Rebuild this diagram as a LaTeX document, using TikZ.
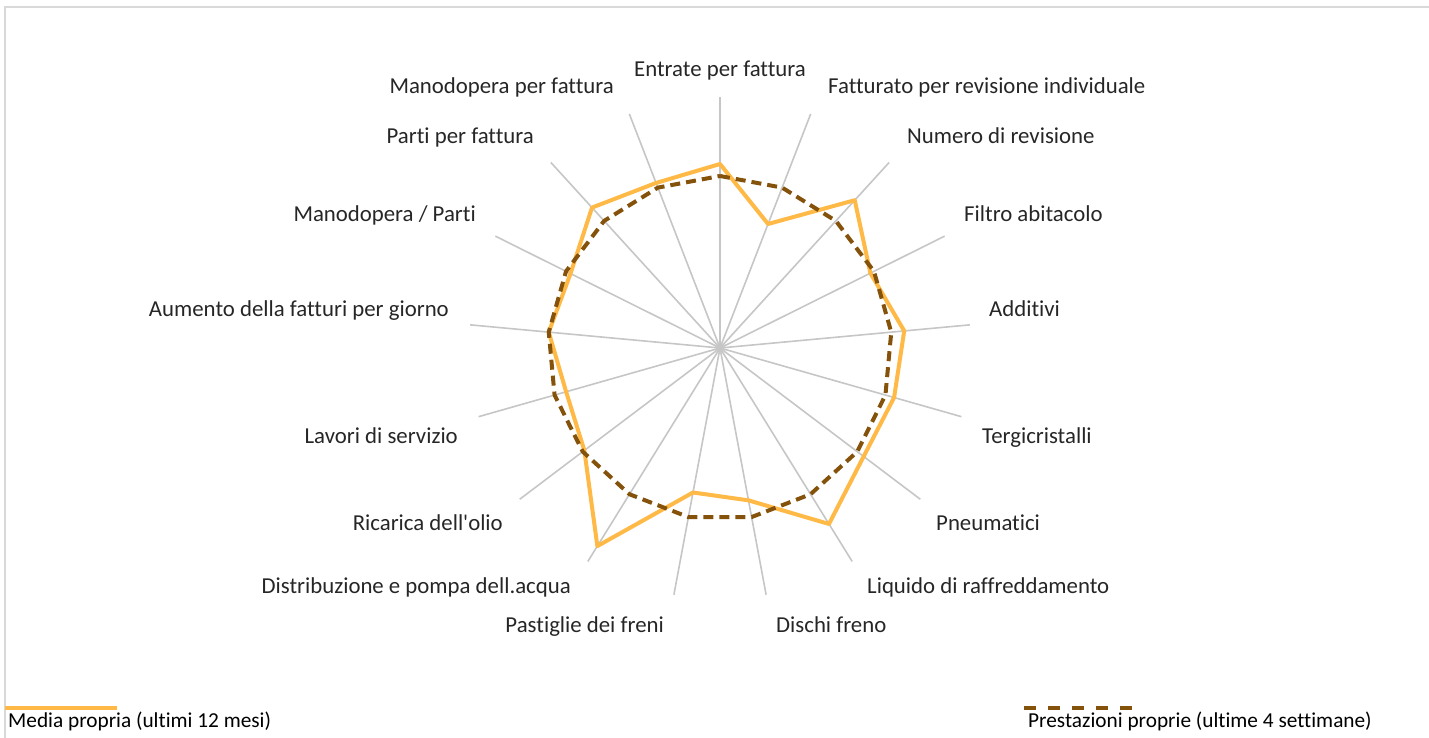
\documentclass[tikz,border=0pt]{standalone}
\usepackage{fontspec}
\setmainfont{Carlito}[Ligatures=NoCommon]
\definecolor{mediaorange}{RGB}{255,185,70}
\definecolor{prestbrown}{RGB}{132,82,10}
\definecolor{spokegray}{RGB}{198,198,198}
\definecolor{framegray}{RGB}{217,217,217}
\definecolor{labelgray}{RGB}{38,38,38}
\begin{document}
\begin{tikzpicture}[x=1pt,y=-1pt,
  spoke/.style={draw=spokegray,line width=1.6pt},
  media/.style={draw=mediaorange,line width=4pt,line join=round},
  prest/.style={draw=prestbrown,line width=4pt,line join=round,dash pattern=on 10pt off 6pt},
  lbl/.style={inner sep=0pt,text=labelgray,font=\fontsize{22.8}{27}\selectfont},
  legend/.style={inner sep=0pt,text=black,font=\fontsize{21.3}{25}\selectfont}]
  \useasboundingbox (0,0) rectangle (1429,738);
  \draw[framegray,line width=2pt] (5,738) |- (1429,7);

  \coordinate (c) at (720,348);
  \def\R{251}
  \def\P{172}
  \foreach \m [count=\i] in {184,133,200,168,185,181,180,207,155,147,233,170,160,172,167,190,177} {
    \pgfmathsetmacro\a{(\i-1)*360/17-90}
    \coordinate (s\i) at ([shift={(\a:\R)}]c);
    \coordinate (m\i) at ([shift={(\a:\m)}]c);
    \coordinate (p\i) at ([shift={(\a:\P)}]c);
  }

  \foreach \i in {1,...,17} \draw[spoke] (c) -- (s\i);
  \draw[media] (m1) \foreach \i in {2,...,17} {-- (m\i)} -- cycle;
  \draw[prest] (p1) \foreach \i in {2,...,17} {-- (p\i)} -- cycle;

  \foreach \x/\y/\anc/\txt [count=\i] in {
      720/77/base/{Entrate per fattura},
      828/94/base west/{Fatturato per revisione individuale},
      907/144/base west/{Numero di revisione},
      964/222/base west/{Filtro abitacolo},
      989/316/base west/{Additivi},
      982/443/base west/{Tergicristalli},
      936/530/base west/{Pneumatici},
      867/593/base west/{Liquido di raffreddamento},
      776/632/base west/{Dischi freno},
      664/632/base east/{Pastiglie dei freni},
      571/593/base east/{Distribuzione e pompa dell.acqua},
      503/530/base east/{Ricarica dell\textquotesingle olio},
      458/443/base east/{Lavori di servizio},
      449/316/base east/{Aumento della fatturi per giorno},
      476/222/base east/{Manodopera / Parti},
      534/144/base east/{Parti per fattura},
      614/94/base east/{Manodopera per fattura}}
    \node[lbl,anchor=\anc] (l\i) at (\x,\y) {\txt};

  \coordinate (mleft) at (5,708);
  \coordinate (mright) at (117,708);
  \draw[media] (mleft) -- (mright);
  \node[legend,anchor=base west] (legm) at (8,727) {Media propria (ultimi 12 mesi)};
  \coordinate (pleft) at (1024,708);
  \coordinate (pright) at (1133,708);
  \draw[prest,dash pattern=on 12pt off 12pt] (pleft) -- (pright);
  \node[legend,anchor=base west] (legp) at (1028,727) {Prestazioni proprie (ultime 4 settimane)};
\end{tikzpicture}
\end{document}
